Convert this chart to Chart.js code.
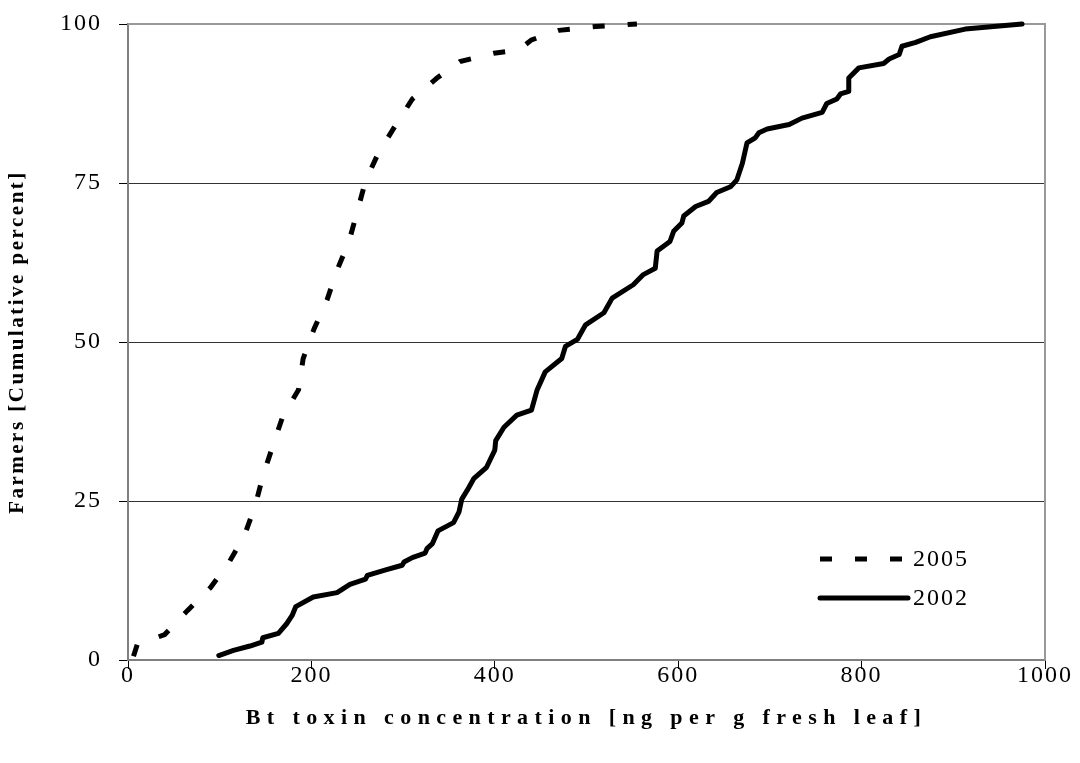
<!DOCTYPE html>
<html><head><meta charset="utf-8">
<script src="https://cdn.jsdelivr.net/npm/chart.js@4"></script>
<style>html,body{margin:0;padding:0;background:#fff}#wrap{width:1080px;height:763px}</style>
</head><body><div id="wrap"><canvas id="c" width="1080" height="763"></canvas></div>
<script>
const xTicks = [0, 200, 400, 600, 800, 1000];
const yTicks = [0, 25, 50, 75, 100];
const seriesLabels = ['2005', '2002'];
const xTitle = 'Bt toxin concentration [ng per g fresh leaf]';
const yTitle = 'Farmers [Cumulative percent]';

const x2005 = [6, 10, 40, 65, 90, 110, 127, 139, 147, 158, 169, 186, 191, 203, 217, 228, 241, 250, 259, 273, 291, 310, 337, 362, 399, 426, 440, 470, 510, 555];
const y2005 = [0.6, 2.4, 4.0, 7.8, 11.4, 15.3, 19.6, 24.4, 28.9, 33.7, 38.4, 42.5, 47.4, 52.1, 56.6, 61.3, 65.8, 70.5, 75.3, 79.7, 83.9, 88.2, 91.5, 94.1, 95.4, 95.9, 97.5, 99.0, 99.6, 100];

const x2002 = [99, 115, 133, 146, 147, 164, 173, 179, 183, 202, 228, 242, 259, 261, 282, 299, 301, 310, 324, 326, 332, 338, 355, 361, 364, 370, 377, 391, 400, 401, 410, 424, 440, 446, 455, 473, 477, 490, 499, 519, 528, 551, 562, 575, 577, 591, 595, 604, 606, 619, 633, 642, 657, 664, 670, 675, 684, 688, 697, 721, 735, 757, 762, 773, 777, 786, 786, 797, 824, 830, 841, 844, 859, 875, 913, 975];
const y2002 = [0.7, 1.5, 2.2, 2.8, 3.5, 4.2, 5.7, 7.0, 8.4, 9.9, 10.6, 11.9, 12.7, 13.3, 14.2, 14.9, 15.4, 16.1, 16.8, 17.5, 18.3, 20.3, 21.6, 23.3, 25.3, 26.7, 28.5, 30.3, 33.0, 34.5, 36.6, 38.5, 39.3, 42.4, 45.3, 47.4, 49.3, 50.4, 52.7, 54.6, 56.9, 59.0, 60.6, 61.6, 64.3, 65.8, 67.4, 68.7, 69.8, 71.3, 72.1, 73.5, 74.4, 75.5, 78.1, 81.3, 82.1, 82.9, 83.5, 84.2, 85.2, 86.1, 87.5, 88.2, 89.0, 89.4, 91.5, 93.1, 93.8, 94.5, 95.2, 96.5, 97.1, 98.0, 99.2, 100];

const toPts = (xs, ys) => xs.map((x, i) => ({x: x, y: ys[i]}));
const SERIF = "'Liberation Serif', 'Times New Roman', serif";

const framePlugin = {
  id: 'frame',
  beforeDraw(chart) { chart.ctx.letterSpacing = '2px'; },
  beforeDatasetsDraw(chart) {
    const {ctx, chartArea: a} = chart;
    ctx.save();
    ctx.strokeStyle = '#999';
    ctx.lineWidth = 2;
    ctx.beginPath();
    ctx.moveTo(a.left, a.top); ctx.lineTo(a.right, a.top); ctx.lineTo(a.right, a.bottom);
    ctx.stroke();
    ctx.restore();
  }
};

const legendPlugin = {
  id: 'insideLegend',
  afterDatasetsDraw(chart) {
    const ctx = chart.ctx;
    const rows = [559, 598];
    chart.data.datasets.forEach((ds, i) => {
      const y = rows[i];
      ctx.save();
      ctx.strokeStyle = ds.borderColor;
      ctx.lineWidth = ds.borderWidth;
      ctx.setLineDash(ds.borderDash || []);
      ctx.lineCap = ds.borderDash ? 'butt' : 'round';
      ctx.beginPath();
      ctx.moveTo(820, y);
      ctx.lineTo(908, y);
      ctx.stroke();
      ctx.setLineDash([]);
      ctx.letterSpacing = '2px';
      ctx.fillStyle = '#000';
      ctx.font = '24px ' + SERIF;
      ctx.textAlign = 'left';
      ctx.textBaseline = 'middle';
      ctx.fillText(ds.label, 913, y + 1);
      ctx.restore();
    });
  }
};

const titleSpacing = {
  id: 'titleSpacing',
  beforeDraw(chart) {
    const patch = (sc, sp) => {
      if (sc._patched) return;
      const orig = sc.drawTitle.bind(sc);
      sc.drawTitle = function () {
        const ctx = chart.ctx;
        ctx.save();
        ctx.letterSpacing = sp;
        orig();
        ctx.restore();
      };
      sc._patched = true;
    };
    patch(chart.scales.x, '6.4px');
    patch(chart.scales.y, '2.5px');
  }
};

new Chart(document.getElementById('c'), {
  type: 'scatter',
  data: {
    datasets: [
      {label: seriesLabels[0], data: toPts(x2005, y2005), showLine: true, borderColor: '#000', backgroundColor: '#000',
       borderWidth: 5, borderDash: [12, 23], borderCapStyle: 'butt', pointRadius: 0, tension: 0, clip: false},
      {label: seriesLabels[1], data: toPts(x2002, y2002), showLine: true, borderColor: '#000', backgroundColor: '#000',
       borderWidth: 5, borderJoinStyle: 'round', borderCapStyle: 'round', pointRadius: 0, tension: 0, clip: false}
    ]
  },
  options: {
    responsive: false,
    devicePixelRatio: 1,
    animation: false,
    layout: {padding: {left: 0, right: 35, top: 24, bottom: 0}, autoPadding: false},
    plugins: {legend: {display: false}, tooltip: {enabled: false}},
    scales: {
      x: {
        type: 'linear', min: 0, max: 1000,
        afterBuildTicks: s => { s.ticks = xTicks.map(v => ({value: v})); },
        afterFit: s => { s.height = 103; s.paddingLeft = 0; s.paddingRight = 0; },
        ticks: {font: {family: SERIF, size: 24}, color: '#000', padding: -8, maxRotation: 0, callback: v => String(v)},
        grid: {drawOnChartArea: false, tickLength: 9, tickColor: '#000', tickWidth: 1},
        border: {color: '#808080', width: 2},
        title: {display: true, text: xTitle, color: '#000', font: {family: SERIF, size: 22, weight: 'bold'}, padding: {top: 0, bottom: 31}}
      },
      y: {
        min: 0, max: 100,
        afterBuildTicks: s => { s.ticks = yTicks.map(v => ({value: v})); },
        afterFit: s => { s.width = 128; s.paddingTop = 0; s.paddingBottom = 0; },
        ticks: {font: {family: SERIF, size: 24}, color: '#000', padding: 17, callback: v => String(v)},
        grid: {color: c => (c.tick && (c.tick.value === 0 || c.tick.value === 100)) ? 'rgba(0,0,0,0)' : '#333',
               lineWidth: 1, tickLength: 9, tickColor: '#000', tickWidth: 1},
        border: {color: '#808080', width: 2},
        title: {display: true, text: yTitle, color: '#000', font: {family: SERIF, size: 21, weight: 'bold'}, padding: {top: 5, bottom: 0}}
      }
    }
  },
  plugins: [framePlugin, titleSpacing, legendPlugin]
});
</script>
</body></html>
